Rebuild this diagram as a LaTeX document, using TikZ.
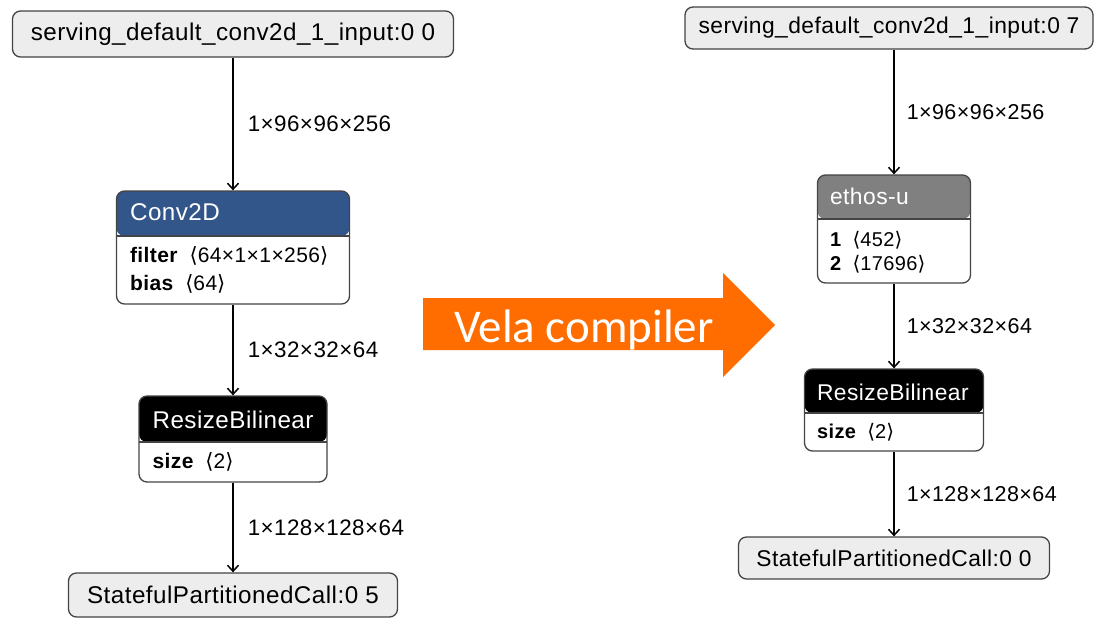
\documentclass[tikz,border=0pt]{standalone}
\usepackage{fontspec}
\setmainfont{Liberation Sans}[LetterSpace=2.0]
\newfontfamily\brfont{DejaVu Sans}
\newfontfamily\velafont{Carlito}
\usetikzlibrary{arrows.meta, calc, positioning}
\definecolor{convblue}{RGB}{51, 86, 138}
\definecolor{ethosgray}{RGB}{128, 128, 128}
\definecolor{iofill}{RGB}{237, 237, 237}
\definecolor{boxline}{RGB}{68, 68, 68}
\definecolor{velaorange}{RGB}{255, 109, 0}
\newcommand{\nodesz}{24.2}
\newcommand{\edgesz}{22.4}
\newcommand{\attrsz}{21}
\newcommand{\shp}[1]{\hspace{0.25em}{\brfont ⟨}#1{\brfont ⟩}}
\tikzset{
  >={Straight Barb[length=6pt, width=11pt]},
}

\begin{document}
\begin{tikzpicture}[x=1pt, y=-1pt,
    iobox/.style={draw=boxline, fill=iofill, line width=1.3pt, rounded corners=8pt,
                  inner sep=0pt, font=\fontsize{\nodesz}{\nodesz}\selectfont},
    opbox/.style={draw=boxline, fill=white, line width=1.3pt, rounded corners=8pt,
                  inner sep=0pt},
    head/.style 2 args={path picture={
        \fill[#1] (path picture bounding box.north west)
              rectangle ([yshift=-#2pt]path picture bounding box.north east);
        \draw[boxline, line width=1.3pt] ([yshift=-#2pt]path picture bounding box.north west)
              -- ([yshift=-#2pt]path picture bounding box.north east);}},
    title/.style={anchor=west, text=white, inner sep=0pt,
                  font=\fontsize{\nodesz}{\nodesz}\selectfont},
    attr/.style={anchor=west, inner sep=0pt, font=\fontsize{\attrsz}{\attrsz}\selectfont},
    dims/.style={anchor=west, inner sep=0pt, font=\fontsize{\edgesz}{\edgesz}\selectfont},
    flow/.style={->, line width=1.5pt}]
  \useasboundingbox (0,0) rectangle (1094,618);

  % original model
  \node[iobox, minimum width=441, minimum height=46] (in0) at (233,34)
        {serving\_default\_conv2d\_1\_input:0 0};
  \node[opbox, head={convblue}{45}, minimum width=233, minimum height=113] (conv)
        at (233,247.5) {};
  \node[title] (convname) at ($(conv.north west)+(14,22)$) {Conv2D};
  \node[attr] (convfilter) at ($(conv.north west)+(14,66)$)
        {\textbf{filter} \shp{64×1×1×256}};
  \node[attr] (convbias) at ($(conv.north west)+(14,94)$) {\textbf{bias} \shp{64}};
  \node[opbox, head={black}{46}, minimum width=188, minimum height=86] (rs0)
        at (233,439) {};
  \node[title] (rs0name) at ($(rs0.north west)+(14,24)$) {ResizeBilinear};
  \node[attr] (rs0size) at ($(rs0.north west)+(14,67)$) {\textbf{size} \shp{2}};
  \node[iobox, minimum width=329, minimum height=44] (out0) at (233,595)
        {StatefulPartitionedCall:0 5};
  \draw[flow] (in0) -- node[dims, xshift=14pt] {1×96×96×256} (conv);
  \draw[flow] (conv) -- node[dims, xshift=14pt] {1×32×32×64} (rs0);
  \draw[flow] (rs0) -- node[dims, xshift=14pt] {1×128×128×64} (out0);

  % compiler arrow
  \fill[velaorange] (423,298) -- (723,298) -- (723,273) -- (775,325)
        -- (723,377) -- (723,350) -- (423,350) -- cycle;
  \node[text=white, inner sep=0pt, anchor=base,
        font=\velafont\fontsize{47}{47}\selectfont] (vela) at (584,342) {Vela compiler};

  % compiled model
  \begin{scope}
    \def\nodesz{22.8}\def\edgesz{21.5}\def\attrsz{20}
    \node[iobox, minimum width=408, minimum height=42] (in1) at (889,28)
          {serving\_default\_conv2d\_1\_input:0 7};
    \node[opbox, head={ethosgray}{44}, minimum width=153, minimum height=108] (ethos)
          at (894,229) {};
    \node[title] (ethosname) at ($(ethos.north west)+(13,22)$) {ethos-u};
    \node[attr] (ethosone) at ($(ethos.north west)+(13,66)$) {\textbf{1} \shp{452}};
    \node[attr] (ethostwo) at ($(ethos.north west)+(13,90)$) {\textbf{2} \shp{17696}};
    \node[opbox, head={black}{44}, minimum width=179, minimum height=82] (rs1)
          at (894,410) {};
    \node[title] (rs1name) at ($(rs1.north west)+(13,24)$) {ResizeBilinear};
    \node[attr] (rs1size) at ($(rs1.north west)+(13,64)$) {\textbf{size} \shp{2}};
    \node[iobox, minimum width=311, minimum height=42] (out1) at (894,558)
          {StatefulPartitionedCall:0 0};
    \draw[flow] (in1.south -| ethos.north) -- node[dims, xshift=12pt] {1×96×96×256}
          (ethos.north);
    \draw[flow] (ethos) -- node[dims, xshift=12pt] {1×32×32×64} (rs1);
    \draw[flow] (rs1) -- node[dims, xshift=12pt] {1×128×128×64} (out1);
  \end{scope}
\end{tikzpicture}
\end{document}
